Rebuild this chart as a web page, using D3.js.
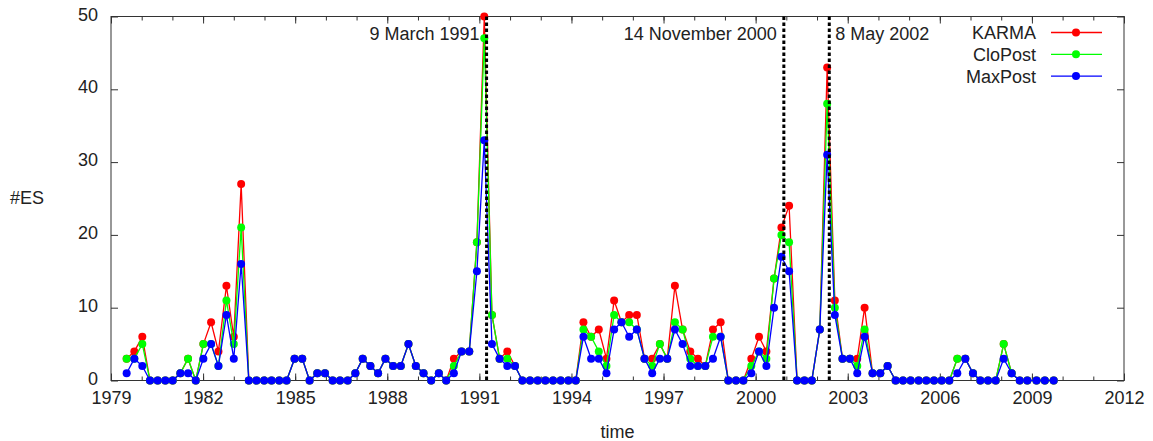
<!DOCTYPE html>
<html>
<head>
<meta charset="utf-8">
<script src="https://cdn.jsdelivr.net/npm/d3@7"></script>
<style>
  body { margin: 0; background: #fff; }
  svg text { font-family: "Liberation Sans", Arial, sans-serif; fill: #222; }
</style>
</head>
<body>
<svg id="chart" width="1153" height="441"></svg>
<script>
// Bin centres (decimal years) of the event-count windows
const times = [
  1979.51, 1979.76, 1980.02, 1980.27, 1980.52, 1980.77, 1981.01, 1981.26, 1981.51, 1981.76,
  1982.01, 1982.26, 1982.50, 1982.76, 1983.00, 1983.24, 1983.49, 1983.74, 1983.99, 1984.23,
  1984.48, 1984.72, 1984.98, 1985.23, 1985.47, 1985.72, 1985.97, 1986.22, 1986.46, 1986.71,
  1986.96, 1987.20, 1987.45, 1987.70, 1987.94, 1988.19, 1988.44, 1988.69, 1988.93, 1989.18,
  1989.43, 1989.68, 1989.92, 1990.17, 1990.42, 1990.67, 1990.92, 1991.16, 1991.41, 1991.66,
  1991.91, 1992.16, 1992.40, 1992.65, 1992.90, 1993.15, 1993.40, 1993.65, 1993.90, 1994.14,
  1994.39, 1994.64, 1994.89, 1995.14, 1995.39, 1995.63, 1995.88, 1996.13, 1996.38, 1996.63,
  1996.88, 1997.12, 1997.37, 1997.62, 1997.87, 1998.12, 1998.36, 1998.61, 1998.86, 1999.11,
  1999.36, 1999.60, 1999.86, 2000.11, 2000.35, 2000.60, 2000.84, 2001.09, 2001.35, 2001.59,
  2001.83, 2002.09, 2002.33, 2002.58, 2002.83, 2003.07, 2003.31, 2003.55, 2003.81, 2004.06,
  2004.30, 2004.56, 2004.80, 2005.05, 2005.31, 2005.56, 2005.81, 2006.06, 2006.31, 2006.57,
  2006.83, 2007.08, 2007.32, 2007.57, 2007.82, 2008.08, 2008.34, 2008.60, 2008.85, 2009.15,
  2009.42, 2009.71
];

// Number of extreme events per window, one array per estimator
const karma = [
  3, 4, 6, 0, 0, 0, 0, 1, 3, 0,
  5, 8, 4, 13, 6, 27, 0, 0, 0, 0,
  0, 0, 3, 3, 0, 1, 1, 0, 0, 0,
  1, 3, 2, 1, 3, 2, 2, 5, 2, 1,
  0, 1, 0, 3, 4, 4, 19, 50, 9, 3,
  4, 2, 0, 0, 0, 0, 0, 0, 0, 0,
  8, 6, 7, 3, 11, 8, 9, 9, 3, 3,
  5, 3, 13, 7, 4, 3, 2, 7, 8, 0,
  0, 0, 3, 6, 4, 14, 21, 24, 0, 0,
  0, 7, 43, 11, 3, 3, 3, 10, 1, 1,
  2, 0, 0, 0, 0, 0, 0, 0, 0, 3,
  3, 1, 0, 0, 0, 5, 1, 0, 0, 0,
  0, 0
];
const cloPost = [
  3, 3, 5, 0, 0, 0, 0, 1, 3, 0,
  5, 5, 2, 11, 5, 21, 0, 0, 0, 0,
  0, 0, 3, 3, 0, 1, 1, 0, 0, 0,
  1, 3, 2, 1, 3, 2, 2, 5, 2, 1,
  0, 1, 0, 2, 4, 4, 19, 47, 9, 3,
  3, 2, 0, 0, 0, 0, 0, 0, 0, 0,
  7, 6, 4, 2, 9, 8, 8, 7, 3, 2,
  5, 3, 8, 7, 3, 2, 2, 6, 6, 0,
  0, 0, 2, 4, 3, 14, 20, 19, 0, 0,
  0, 7, 38, 10, 3, 3, 2, 7, 1, 1,
  2, 0, 0, 0, 0, 0, 0, 0, 0, 3,
  3, 1, 0, 0, 0, 5, 1, 0, 0, 0,
  0, 0
];
const maxPost = [
  1, 3, 2, 0, 0, 0, 0, 1, 1, 0,
  3, 5, 2, 9, 3, 16, 0, 0, 0, 0,
  0, 0, 3, 3, 0, 1, 1, 0, 0, 0,
  1, 3, 2, 1, 3, 2, 2, 5, 2, 1,
  0, 1, 0, 1, 4, 4, 15, 33, 5, 3,
  2, 2, 0, 0, 0, 0, 0, 0, 0, 0,
  6, 3, 3, 1, 7, 8, 6, 7, 3, 1,
  3, 3, 7, 5, 2, 2, 2, 3, 6, 0,
  0, 0, 1, 4, 2, 10, 17, 15, 0, 0,
  0, 7, 31, 9, 3, 3, 1, 6, 1, 1,
  2, 0, 0, 0, 0, 0, 0, 0, 0, 1,
  3, 1, 0, 0, 0, 3, 1, 0, 0, 0,
  0, 0
];

const seriesNames = ["KARMA", "CloPost", "MaxPost"];
const seriesColors = ["#ff0000", "#00ff00", "#0000ff"];

const xTickLabels = [1979, 1982, 1985, 1988, 1991, 1994, 1997, 2000, 2003, 2006, 2009, 2012];
const xMinorTicks = d3.range(1979, 2013);
const yTickLabels = [0, 10, 20, 30, 40, 50];

// Marked dates (decimal years) with their captions
const eventDates = [1991.186, 2000.870, 2002.350];
const eventLabels = ["9 March 1991", "14 November 2000", "8 May 2002"];
const eventSides = ["left", "left", "right"];

const svg = d3.select("#chart");
const margin = { left: 111, right: 29, top: 16.5, bottom: 60.5 };
const W = 1153, H = 441;

const x = d3.scaleLinear().domain([1979, 2012]).range([margin.left, W - margin.right]);
const y = d3.scaleLinear().domain([0, 50]).range([H - margin.bottom, margin.top]);

const fontSize = 18;

// Frame
svg.append("rect")
  .attr("x", x.range()[0]).attr("y", y.range()[1])
  .attr("width", x.range()[1] - x.range()[0])
  .attr("height", y.range()[0] - y.range()[1])
  .attr("fill", "none").attr("stroke", "#333").attr("stroke-width", 1);

function styleAxis(g) {
  g.select(".domain").remove();
  g.selectAll(".tick line").attr("stroke", "#333");
  g.selectAll(".tick text").attr("font-size", fontSize).attr("fill", "#222")
    .attr("font-family", "Liberation Sans, Arial, sans-serif");
}

// Bottom axis: labelled major ticks and yearly minor ticks
svg.append("g").attr("transform", `translate(0,${y(0)})`)
  .call(d3.axisBottom(x).tickValues(xMinorTicks).tickSize(-4).tickFormat(""))
  .call(styleAxis);
svg.append("g").attr("transform", `translate(0,${y(0)})`)
  .call(d3.axisBottom(x).tickValues(xTickLabels).tickSize(-7).tickPadding(11).tickFormat(d3.format("d")))
  .call(styleAxis);
// Top mirror
svg.append("g").attr("transform", `translate(0,${y(50)})`)
  .call(d3.axisTop(x).tickValues(xMinorTicks).tickSize(-4).tickFormat(""))
  .call(styleAxis);
svg.append("g").attr("transform", `translate(0,${y(50)})`)
  .call(d3.axisTop(x).tickValues(xTickLabels).tickSize(-7).tickFormat(""))
  .call(styleAxis);
// Left axis
svg.append("g").attr("transform", `translate(${x(1979)},0)`)
  .call(d3.axisLeft(y).tickValues(yTickLabels).tickSize(-7).tickPadding(13).tickFormat(d3.format("d")))
  .call(styleAxis)
  .call(g => g.selectAll(".tick text").attr("dy", "0.2em"));
// Right mirror
svg.append("g").attr("transform", `translate(${x(2012)},0)`)
  .call(d3.axisRight(y).tickValues(yTickLabels).tickSize(-7).tickFormat(""))
  .call(styleAxis);

// Axis titles
svg.append("text").attr("x", 10).attr("y", 204)
  .attr("font-size", fontSize).text("#ES");
svg.append("text").attr("x", (x.range()[0] + x.range()[1]) / 2).attr("y", 438)
  .attr("text-anchor", "middle").attr("font-size", fontSize).text("time");

// Series: lines then markers, KARMA first so MaxPost sits on top
const seriesData = [karma, cloPost, maxPost];
const line = d3.line().x(d => x(d[0])).y(d => y(d[1]));

seriesData.forEach((vals, si) => {
  const pts = times.map((t, i) => [t, vals[i]]);
  const g = svg.append("g");
  g.append("path").datum(pts)
    .attr("d", line).attr("fill", "none")
    .attr("stroke", seriesColors[si]).attr("stroke-width", 1.3)
    .attr("stroke-linejoin", "round");
  g.selectAll("circle").data(pts).join("circle")
    .attr("cx", d => x(d[0])).attr("cy", d => y(d[1]))
    .attr("r", 4).attr("fill", seriesColors[si]);
});

// Event markers: dotted verticals with captions
eventDates.forEach((d, i) => {
  const xe = x(d) + 1.5;
  svg.append("line")
    .attr("x1", xe).attr("x2", xe)
    .attr("y1", y(50)).attr("y2", y(0))
    .attr("stroke", "#000").attr("stroke-width", 3)
    .attr("stroke-dasharray", "3.5,2.5");
  const left = eventSides[i] === "left";
  svg.append("text")
    .attr("x", left ? xe - 7 : xe + 6)
    .attr("y", 40)
    .attr("text-anchor", left ? "end" : "start")
    .attr("font-size", fontSize)
    .text(eventLabels[i]);
});

// Legend
const legend = svg.append("g");
seriesNames.forEach((name, i) => {
  const cy = 32.5 + i * 21.8;
  legend.append("text").attr("x", 1036).attr("y", cy + 6.5)
    .attr("text-anchor", "end").attr("font-size", fontSize).text(name);
  legend.append("line").attr("x1", 1051).attr("x2", 1102)
    .attr("y1", cy).attr("y2", cy)
    .attr("stroke", seriesColors[i]).attr("stroke-width", 1.3);
  legend.append("circle").attr("cx", 1076).attr("cy", cy)
    .attr("r", 4).attr("fill", seriesColors[i]);
});
</script>
</body>
</html>
